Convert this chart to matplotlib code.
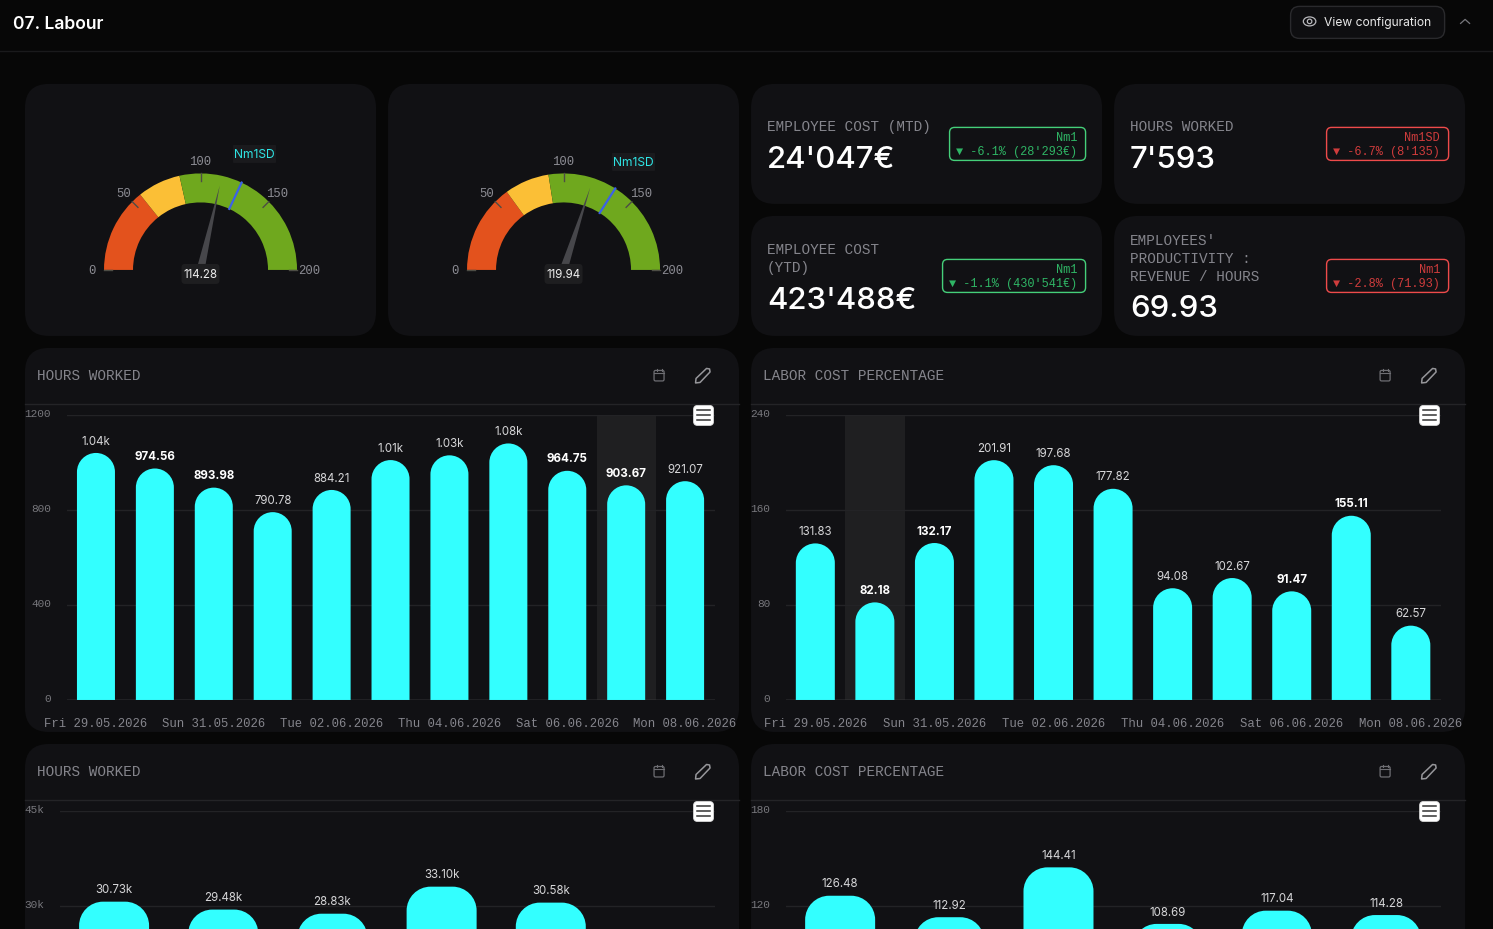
import numpy as np
import matplotlib
matplotlib.use('Agg')
import matplotlib.pyplot as plt
from matplotlib.patches import FancyBboxPatch, PathPatch, Polygon, Ellipse
from matplotlib.path import Path
from matplotlib.transforms import ScaledTranslation

W, H = 1493, 929

# daily charts
dates = ['Fri 29.05.2026', 'Sat 30.05.2026', 'Sun 31.05.2026', 'Mon 01.06.2026',
         'Tue 02.06.2026', 'Wed 03.06.2026', 'Thu 04.06.2026', 'Fri 05.06.2026',
         'Sat 06.06.2026', 'Sun 07.06.2026', 'Mon 08.06.2026']
hours_daily = [1040, 974.56, 893.98, 790.78, 884.21, 1010, 1030, 1080, 964.75, 903.67, 921.07]
hours_labels = ['1.04k', '974.56', '893.98', '790.78', '884.21', '1.01k', '1.03k', '1.08k',
                '964.75', '903.67', '921.07']
hours_bold = [1, 2, 8, 9]
cost_daily = [131.83, 82.18, 132.17, 201.91, 197.68, 177.82, 94.08, 102.67, 91.47, 155.11, 62.57]
cost_bold = [1, 2, 8, 9]

# monthly charts
hours_monthly = [30730, 29480, 28830, 33100, 30580]
hours_monthly_labels = ['30.73k', '29.48k', '28.83k', '33.10k', '30.58k']
cost_monthly = [126.48, 112.92, 144.41, 108.69, 117.04, 114.28]

# gauges: value, red end, yellow end, target
gauge_values = [114.28, 119.94]
gauge_red_end = [57, 60]
gauge_yellow_end = [86, 90]
gauge_targets = [128, 136]
gauge_ticks = [0, 50, 100, 150, 200]

BG = '#070707'
PANEL = '#111114'
CYAN = '#33ffff'
LINE = '#232326'
GREY = '#85858c'
MONO = ['Liberation Mono', 'DejaVu Sans Mono']
SANS = 'Inter'

# the extra 0.1 keeps the pixel size from rounding down
fig = plt.figure(figsize=((W + 0.1) / 100, (H + 0.1) / 100), dpi=100, facecolor=BG)


def px_axes(x0, y0, x1, y1, **kw):
    return fig.add_axes([x0 / W, 1 - y1 / H, (x1 - x0) / W, (y1 - y0) / H], **kw)


# background layer in pixel coordinates
bg = fig.add_axes([0, 0, 1, 1], zorder=0)
bg.set_xlim(0, W)
bg.set_ylim(H, 0)
bg.axis('off')

# top layer for the menu buttons
top = fig.add_axes([0, 0, 1, 1], zorder=5)
top.set_xlim(0, W)
top.set_ylim(H, 0)
top.axis('off')


def box(ax, x0, y0, x1, y1, r, fc, ec='none', lw=1.0):
    p = FancyBboxPatch((x0 + r, y0 + r), x1 - x0 - 2 * r, y1 - y0 - 2 * r,
                       boxstyle=f'round,pad={r},rounding_size={r}',
                       fc=fc, ec=ec, lw=lw, mutation_aspect=1)
    ax.add_patch(p)
    return p


def mono(ax, x, y, s, size=10.4, color=GREY, ha='left'):
    ax.text(x, y + 1, s, family=MONO, fontsize=size, color=color, ha=ha, va='center')


# header
bg.plot([0, W], [51.5, 51.5], color='#1a1a1c', lw=1)
bg.text(13, 24, '07. Labour', family=SANS, fontsize=12.6, fontweight='semibold',
        color='white', va='center')
box(bg, 1290.5, 6.5, 1444.5, 38.5, 9, '#0e0e10', '#2a2a2d')
bg.text(1324, 22.5, 'View configuration', family=SANS, fontsize=8.7, color='#e8e8e8', va='center')
bg.add_patch(Ellipse((1309.5, 21.5), 12.5, 9, fc='none', ec='#b8b8bc', lw=0.9))
bg.add_patch(Ellipse((1309.5, 21.5), 4.5, 4.5, fc='none', ec='#b8b8bc', lw=0.9))
bg.plot([1460.5, 1465, 1469.5], [23.5, 19.5, 23.5], color='#77777c', lw=0.9)

# panels
for x0, y0, x1, y1 in [(25, 84, 376, 336), (388, 84, 739, 336),
                       (751, 84, 1102, 204), (751, 216, 1102, 336),
                       (1114, 84, 1465, 204), (1114, 216, 1465, 336),
                       (25, 348, 739, 732), (751, 348, 1465, 732),
                       (25, 744, 739, 1130), (751, 744, 1465, 1130)]:
    box(bg, x0, y0, x1, y1, 24, PANEL)

# kpi cards
mono(bg, 767, 126, 'EMPLOYEE COST (MTD)')
mono(bg, 767, 249, 'EMPLOYEE COST')
mono(bg, 767, 267, '(YTD)')
mono(bg, 1130, 126, 'HOURS WORKED')
mono(bg, 1130, 240, "EMPLOYEES'")
mono(bg, 1130, 258, 'PRODUCTIVITY :')
mono(bg, 1130, 276, 'REVENUE / HOURS')
for x, y, s in [(767, 160, "24'047€"), (767, 301, "423'488€"),
                (1130, 160, "7'593"), (1130, 309, '69.93')]:
    bg.text(x, y, s, family=SANS, fontsize=22.4, fontweight='medium', color='white', va='center')


def badge(x0, y0, x1, y1, name, change, edge, text):
    box(bg, x0 + 0.5, y0 + 0.5, x1 - 0.5, y1 - 0.5, 5, 'none', edge, 1.0)
    mono(bg, x1 - 9, y0 + 10, name, size=8.6, color=text, ha='right')
    mono(bg, x1 - 9, y0 + 24, change, size=8.6, color=text, ha='right')


badge(949, 127, 1086, 161, 'Nm1', "▼ -6.1% (28'293€)", '#45d07a', '#2fb565')
badge(942, 259, 1086, 293, 'Nm1', "▼ -1.1% (430'541€)", '#45d07a', '#2fb565')
badge(1326, 127, 1449, 161, 'Nm1SD', "▼ -6.7% (8'135)", '#ef4b4b', '#d03c3c')
badge(1326, 259, 1449, 293, 'Nm1', '▼ -2.8% (71.93)', '#ef4b4b', '#d03c3c')


def draw_gauge(cx, cy, value, red_end, yellow_end, target, tag_x, tag_y):
    size = 130
    ax = px_axes(cx - size, cy - size, cx + size, cy + size, projection='polar', zorder=1)
    ax.set_ylim(0, size)
    ax.axis('off')
    ang = lambda v: np.pi * (1 - np.asarray(v) / 200)
    inner, outer = 67.5, 96.5
    for lo, hi, c in [(0, red_end, '#e3521d'), (red_end, yellow_end, '#fbbf36'),
                      (yellow_end, 200, '#6fa81e')]:
        ax.bar(ang((lo + hi) / 2), outer - inner, width=abs(ang(hi) - ang(lo)),
               bottom=inner, color=c, linewidth=0)
    for t in gauge_ticks:
        ax.plot([ang(t), ang(t)], [outer - 8, outer], color='#4d4d45', lw=1)
        # polar labels sit a pixel low on the baseline row
        ax.annotate(str(t), (ang(t), outer + 12.5), xytext=(0, -1), textcoords='offset pixels',
                    family=MONO, fontsize=8.8, color='#8d8d94', ha='center', va='center')
    ax.plot([ang(target), ang(target)], [inner, outer], color='#3b62e8', lw=1.6)
    th = float(ang(value))
    ax.fill([th, th + np.pi / 2, th - np.pi / 2], [86.5, 4, 4], color='#47474b', lw=0)
    # value and target tags sit above the gauge
    box(top, cx - 19, cy - 6, cx + 19, cy + 14, 3.5, '#1e1e20')
    top.text(cx, cy + 5, f'{value:.2f}', family=SANS, fontsize=8.3, color='#eeeeee',
             ha='center', va='center')
    box(top, tag_x - 21.5, tag_y - 9, tag_x + 21.5, tag_y + 9, 1, '#1a1a1d')
    top.text(tag_x, tag_y + 1, 'Nm1SD', family=SANS, fontsize=8.7, color='#2fe6e6',
             ha='center', va='center')


draw_gauge(200.5, 270, gauge_values[0], gauge_red_end[0], gauge_yellow_end[0], gauge_targets[0], 254.5, 154)
draw_gauge(563.5, 270, gauge_values[1], gauge_red_end[1], gauge_yellow_end[1], gauge_targets[1], 633.5, 162)


def rounded_bars(ax, rect, x, values, width, radius):
    # ax.bar gives the geometry, the visible shape is the same box with a rounded top
    sx = (rect[2] - rect[0]) / (ax.get_xlim()[1] - ax.get_xlim()[0])
    sy = (rect[3] - rect[1]) / (ax.get_ylim()[1] - ax.get_ylim()[0])
    rx, ry = radius / sx, radius / sy
    k = 0.5523
    for b in ax.bar(x, values, width=width, color=CYAN, linewidth=0, zorder=3):
        b.set_visible(False)
        l, r, t = b.get_x(), b.get_x() + b.get_width(), b.get_height()
        verts = [(l, 0), (l, t - ry),
                 (l, t - ry + k * ry), (l + rx - k * rx, t), (l + rx, t),
                 (r - rx, t),
                 (r - rx + k * rx, t), (r, t - ry + k * ry), (r, t - ry),
                 (r, 0), (l, 0)]
        codes = [Path.MOVETO, Path.LINETO, Path.CURVE4, Path.CURVE4, Path.CURVE4, Path.LINETO,
                 Path.CURVE4, Path.CURVE4, Path.CURVE4, Path.LINETO, Path.CLOSEPOLY]
        ax.add_patch(PathPatch(Path(verts, codes), fc=CYAN, ec='none', zorder=3))


def chart(rect, values, labels, bold, ymax, yticks, yticklabels, width_px, radius, n=None,
          dates_shown=None, highlight=None, tick_right=51, offset=11.5):
    ax = px_axes(*rect, zorder=1)
    ax.patch.set_alpha(0)
    n = n or len(values)
    ax.set_xlim(-0.5, n - 0.5)
    ax.set_ylim(0, ymax)
    for s in ax.spines.values():
        s.set_visible(False)
    ax.set_axisbelow(True)
    ax.yaxis.grid(True, color=LINE, lw=1)
    ax.axhline(0, color='#5a5a5e', lw=1, zorder=2)
    ax.set_yticks(yticks)
    ax.set_yticklabels(yticklabels, family=MONO, fontsize=8, color='#77777c')
    ax.tick_params(axis='y', length=0, pad=(rect[0] - tick_right) * 0.72)
    up = ScaledTranslation(0, 2 / 72 * 0.72, fig.dpi_scale_trans)
    for lab in ax.get_yticklabels():
        lab.set_transform(lab.get_transform() + up)
    if dates_shown:
        ax.set_xticks(np.arange(n)[::2])
        ax.set_xticklabels(dates_shown[::2], family=MONO, fontsize=8.8, color='#85858c')
        ax.tick_params(axis='x', length=0, pad=12.7)
    else:
        ax.set_xticks([])
    if highlight is not None:
        ax.axvspan(highlight - 0.5, highlight + 0.5, color='#1f1f21', lw=0, zorder=0)
    x = np.arange(len(values))
    band = (rect[2] - rect[0]) / n
    rounded_bars(ax, rect, x, values, width_px / band, radius)
    for i, (v, s) in enumerate(zip(values, labels)):
        ax.annotate(s, (i, v), xytext=(0, offset), textcoords='offset pixels', family=SANS,
                    fontsize=8.3, ha='center', va='center',
                    fontweight='bold' if i in bold else 'normal',
                    color='white' if i in bold else '#d6d6d8')
    return ax


cost_labels = [f'{v:.2f}' for v in cost_daily]
monthly_labels = [f'{v:.2f}' for v in cost_monthly]

chart((66.5, 415, 714.5, 700), hours_daily, hours_labels, hours_bold, 1200, [0, 400, 800, 1200],
      ['0', '400', '800', '1200'], 38, 19, dates_shown=dates, highlight=9, tick_right=51)
chart((785.5, 415, 1440.5, 700), cost_daily, cost_labels, cost_bold, 240, [0, 80, 160, 240],
      ['0', '80', '160', '240'], 39, 19.5, dates_shown=dates, highlight=1, tick_right=770)
chart((59.5, 811.3, 714.5, 1096.3), hours_monthly, hours_monthly_labels, [], 45000,
      [30000, 45000], ['30k', '45k'], 70, 24, n=6, tick_right=44)
chart((785.5, 811, 1440.5, 1096), cost_monthly, monthly_labels, [], 180, [120, 180],
      ['120', '180'], 70, 24, tick_right=770)


def chart_header(x0, x1, y, title):
    bg.plot([x0, x1], [y + 29.5, y + 29.5], color='#242427', lw=1)
    mono(bg, x0 + 12, y, title)
    cal_x = x1 - 80
    pen_x = x1 - 36
    icon = '#6e6e73'
    box(bg, cal_x - 5, y - 4.5, cal_x + 5, y + 6, 1.5, 'none', icon, 0.9)
    bg.plot([cal_x - 5, cal_x + 5], [y - 1.5, y - 1.5], color=icon, lw=0.8)
    bg.plot([cal_x - 2.5, cal_x - 2.5], [y - 6, y - 3.5], color=icon, lw=0.8)
    bg.plot([cal_x + 2.5, cal_x + 2.5], [y - 6, y - 3.5], color=icon, lw=0.8)
    bg.add_patch(Polygon([(pen_x - 7.5, y + 8), (pen_x - 7, y + 3.5), (pen_x + 3.5, y - 6.5),
                          (pen_x + 6.5, y - 6), (pen_x + 7, y - 3), (pen_x - 3, y + 7.5)],
                         closed=True, fc='none', ec='#96969a', lw=1.1, joinstyle='round'))
    # menu button over the top gridline
    mx, my = x1 - 35.5, y + 40.5
    box(top, mx - 10, my - 10, mx + 10, my + 10, 4, 'white', '#d8d8d8', 0.6)
    for dy in (-5, 0, 5):
        top.plot([mx - 6.5, mx + 6.5], [my + dy, my + dy], color='#333333', lw=1.1)


chart_header(25, 739, 375, 'HOURS WORKED')
chart_header(751, 1465, 375, 'LABOR COST PERCENTAGE')
chart_header(25, 739, 771, 'HOURS WORKED')
chart_header(751, 1465, 771, 'LABOR COST PERCENTAGE')

fig.savefig('out.png', dpi=100, facecolor=BG)
